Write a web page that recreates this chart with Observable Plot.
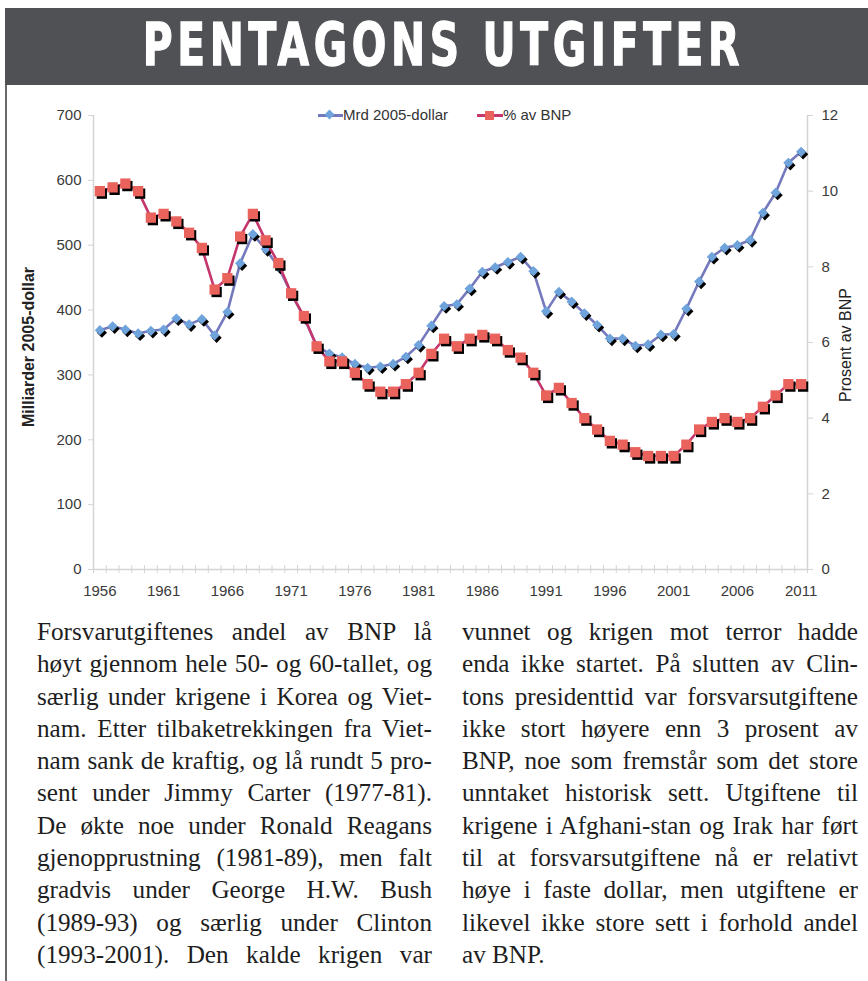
<!DOCTYPE html>
<html><head><meta charset="utf-8">
<script src="https://cdn.jsdelivr.net/npm/d3@7"></script>
<script src="https://cdn.jsdelivr.net/npm/@observablehq/plot@0.6"></script>
<style>
html,body{margin:0;padding:0;background:#fff;}
body{width:868px;height:981px;overflow:hidden;position:relative;}
#band{position:absolute;left:5px;top:8px;width:863px;height:77px;background:#505155;}
#title{position:absolute;left:0;top:8px;width:868px;height:77px;display:flex;align-items:center;justify-content:center;}
#title span{display:inline-block;color:#fff;font-family:"DejaVu Sans Condensed","DejaVu Sans",sans-serif;font-weight:bold;font-size:58px;letter-spacing:6px;transform:scaleX(0.78);margin-top:-4px;margin-left:18px;white-space:nowrap;-webkit-text-stroke:1.3px #fff;}
#vline{position:absolute;left:5px;top:85px;width:2px;height:896px;background:#6a6a6a;}
#chart{position:absolute;left:0;top:95px;}
.ytitle{position:absolute;font-family:"Liberation Sans",Arial,sans-serif;font-size:16px;color:#222;white-space:nowrap;transform:translate(-50%,-50%) rotate(-90deg);}
.leg{position:absolute;top:106px;height:18px;font-family:"Liberation Sans",Arial,sans-serif;font-size:15px;color:#333;line-height:18px;white-space:nowrap;}
.sw{position:absolute;top:8px;height:3px;}
.mk{position:absolute;}
.col{position:absolute;top:616px;font-family:"Liberation Serif","Times New Roman",serif;font-size:25.2px;line-height:32.3px;color:#1e1e1e;}
.ln{text-align:justify;text-align-last:justify;height:32.3px;white-space:nowrap;}
.ln.last{text-align-last:left;}
</style>
</head><body>
<div id="band"></div>
<div id="title"><span>PENTAGONS UTGIFTER</span></div>
<div id="vline"></div>
<div id="chart"></div>
<div class="ytitle" style="left:29px;top:347px;font-weight:bold;">Milliarder 2005-dollar</div>
<div class="ytitle" style="left:846px;top:345px;">Prosent av BNP</div>
<div id="legend"></div>
<div class="col" id="colL" style="left:37px;width:395px;"></div>
<div class="col" id="colR" style="left:462px;width:396px;"></div>
<script>
// ---- data ----
const years = [1956,1957,1958,1959,1960,1961,1962,1963,1964,1965,1966,1967,1968,1969,1970,1971,1972,1973,1974,1975,1976,1977,1978,1979,1980,1981,1982,1983,1984,1985,1986,1987,1988,1989,1990,1991,1992,1993,1994,1995,1996,1997,1998,1999,2000,2001,2002,2003,2004,2005,2006,2007,2008,2009,2010,2011];
const mrd2005 = [369,375,370,364,368,370,387,378,386,361,397,472,517,494,467,426,389,345,333,327,317,311,313,317,328,346,376,406,409,433,459,466,474,482,460,398,428,413,395,377,356,356,345,347,362,363,402,444,482,496,500,508,550,581,627,644];
const pctBNP = [10.0,10.1,10.2,10.0,9.3,9.4,9.2,8.9,8.5,7.4,7.7,8.8,9.4,8.7,8.1,7.3,6.7,5.9,5.5,5.5,5.2,4.9,4.7,4.7,4.9,5.2,5.7,6.1,5.9,6.1,6.2,6.1,5.8,5.6,5.2,4.6,4.8,4.4,4.0,3.7,3.4,3.3,3.1,3.0,3.0,3.0,3.3,3.7,3.9,4.0,3.9,4.0,4.3,4.6,4.9,4.9];
const leftTicks = [0,100,200,300,400,500,600,700];
const rightTicks = [0,2,4,6,8,10,12];
const xLabelYears = [1956,1961,1966,1971,1976,1981,1986,1991,1996,2001,2006,2011];
const seriesNames = ["Mrd 2005-dollar","% av BNP"];
const textLeft = [
 "Forsvarutgiftenes andel av BNP lå",
 "høyt gjennom hele 50- og 60-tallet, og",
 "særlig under krigene i Korea og Viet-",
 "nam. Etter tilbaketrekkingen fra Viet-",
 "nam sank de kraftig, og lå rundt 5 pro-",
 "sent under Jimmy Carter (1977-81).",
 "De økte noe under Ronald Reagans",
 "gjenopprustning (1981-89), men falt",
 "gradvis under George H.W. Bush",
 "(1989-93) og særlig under Clinton",
 "(1993-2001). Den kalde krigen var"
];
const textRight = [
 "vunnet og krigen mot terror hadde",
 "enda ikke startet. På slutten av Clin-",
 "tons presidenttid var forsvarsutgiftene",
 "ikke stort høyere enn 3 prosent av",
 "BNP, noe som fremstår som det store",
 "unntaket historisk sett. Utgiftene til",
 "krigene i Afghani-stan og Irak har ført",
 "til at forsvarsutgiftene nå er relativt",
 "høye i faste dollar, men utgiftene er",
 "likevel ikke store sett i forhold andel",
 "av BNP."
];

// ---- styles ----
const axisCol = "#d4d4d4";
const blueLine = "#7479bd", blueFill = "#6ea3dc";
const redLine = "#c5376c", redFill = "#e9625c";
const K = 700 / 12; // percent -> left-scale units

const data = years.map((y, i) => ({year: y, mrd: mrd2005[i], pct: pctBNP[i], pctY: pctBNP[i] * K}));
const x0 = years[0] - 0.5, x1 = years[years.length - 1] + 0.5;
const boundaries = years.map(y => y - 0.5).concat([x1]);

const chart = Plot.plot({
  width: 868, height: 510,
  marginLeft: 93, marginRight: 61, marginTop: 20, marginBottom: 36,
  style: {fontFamily: "'Liberation Sans', Arial, sans-serif", fontSize: "15px", background: "transparent", overflow: "visible"},
  x: {domain: [x0, x1]},
  y: {domain: [0, 700]},
  marks: [
    Plot.ruleY([0], {stroke: axisCol, strokeWidth: 1.5}),
    Plot.ruleX([x0], {stroke: axisCol, strokeWidth: 1.5}),
    Plot.ruleX([x1], {stroke: axisCol, strokeWidth: 1.5}),
    Plot.axisX(boundaries, {anchor: "bottom", tickSize: 8, dy: -4, fill: "none", stroke: axisCol, label: null}),
    Plot.axisX(xLabelYears, {anchor: "bottom", tickSize: 0, tickPadding: 16, tickFormat: d => String(d), fill: "#3a3a3a", label: null}),
    Plot.axisY(leftTicks, {anchor: "left", tickSize: 5, tickPadding: 7, stroke: axisCol, fill: "#3a3a3a", label: null}),
    Plot.axisY(rightTicks.map(p => p * K), {anchor: "right", tickSize: 5, tickPadding: 9, tickFormat: d => String(Math.round(d / K)), stroke: axisCol, fill: "#3a3a3a", label: null}),
    Plot.line(data, {x: "year", y: "mrd", stroke: blueLine, strokeWidth: 2.6}),
    Plot.dot(data, {x: "year", y: "mrd", symbol: "diamond2", r: 4.6, fill: "#000", stroke: "none", dx: 2, dy: 2.5}),
    Plot.dot(data, {x: "year", y: "mrd", symbol: "diamond2", r: 4.6, fill: blueFill, stroke: "none"}),
    Plot.line(data, {x: "year", y: "pctY", stroke: redLine, strokeWidth: 2.6}),
    Plot.dot(data, {x: "year", y: "pctY", symbol: "square", r: 5.8, fill: "#000", stroke: "none", dx: 2, dy: 2.5}),
    Plot.dot(data, {x: "year", y: "pctY", symbol: "square", r: 5.8, fill: redFill, stroke: "none"})
  ]
});
document.getElementById("chart").appendChild(chart);

// ---- legend ----
const leg = document.getElementById("legend");
leg.innerHTML =
  `<div class="leg" style="left:318px;width:140px;">
     <div class="sw" style="left:0;width:25px;background:${blueLine};"></div>
     <div class="mk" style="left:8px;top:5px;width:7px;height:7px;background:${blueFill};transform:rotate(45deg);"></div>
     <span style="position:absolute;left:25px;top:0;">${seriesNames[0]}</span></div>
   <div class="leg" style="left:477px;width:110px;">
     <div class="sw" style="left:0;width:26px;background:${redLine};"></div>
     <div class="mk" style="left:8px;top:5px;width:9px;height:9px;background:${redFill};"></div>
     <span style="position:absolute;left:26px;top:0;">${seriesNames[1]}</span></div>`;

// ---- text columns ----
function fill(id, lines, lastPlain) {
  const el = document.getElementById(id);
  lines.forEach((t, i) => {
    const d = document.createElement("div");
    d.className = "ln" + (lastPlain && i === lines.length - 1 ? " last" : "");
    d.textContent = t;
    el.appendChild(d);
  });
}
fill("colL", textLeft, false);
fill("colR", textRight, true);
</script>
</body></html>
